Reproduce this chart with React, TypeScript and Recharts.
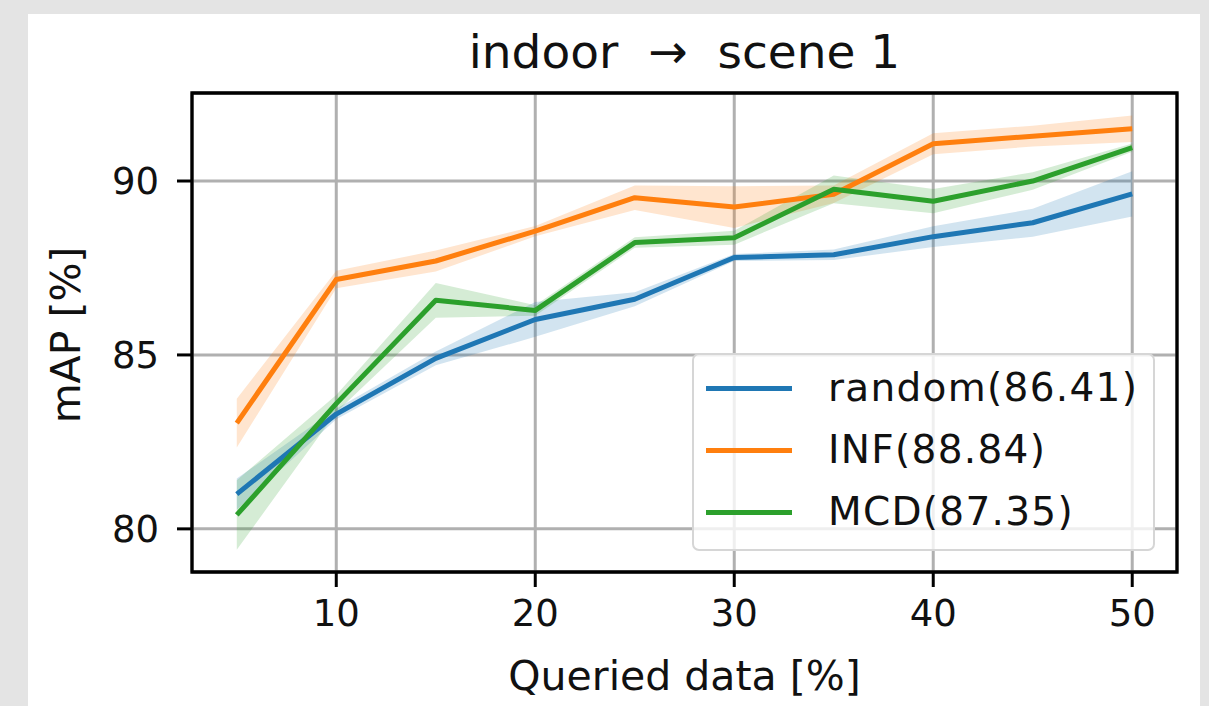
import { ComposedChart, Line, Area, XAxis, YAxis, CartesianGrid, ReferenceArea, Legend } from 'recharts';

const queried = [5, 10, 15, 20, 25, 30, 35, 40, 45, 50];

const randomMean = [81.0, 83.3, 84.9, 86.02, 86.6, 87.8, 87.88, 88.4, 88.8, 89.63];
const randomStd = [0.45, 0.15, 0.2, 0.5, 0.2, 0.1, 0.15, 0.3, 0.4, 0.65];
const infMean = [83.04, 87.17, 87.7, 88.56, 89.52, 89.25, 89.62, 91.07, 91.29, 91.5];
const infStd = [0.7, 0.25, 0.3, 0.15, 0.35, 0.6, 0.25, 0.3, 0.3, 0.38];
const mcdMean = [80.4, 83.6, 86.57, 86.28, 88.23, 88.37, 89.76, 89.42, 90.0, 90.96];
const mcdStd = [1.0, 0.25, 0.5, 0.15, 0.15, 0.2, 0.4, 0.35, 0.25, 0.12];

const xTicks = [10, 20, 30, 40, 50];
const yTicks = [80, 85, 90];

const series = [
  { key: 'random', name: 'random(86.41)', color: '#1f77b4', mean: randomMean, std: randomStd },
  { key: 'inf', name: 'INF(88.84)', color: '#ff7f0e', mean: infMean, std: infStd },
  { key: 'mcd', name: 'MCD(87.35)', color: '#2ca02c', mean: mcdMean, std: mcdStd },
];

const data = queried.map((q, i) => {
  const row: Record<string, number | number[]> = { q };
  series.forEach((s) => {
    row[s.key] = s.mean[i];
    row[s.key + 'Band'] = [s.mean[i] - s.std[i], s.mean[i] + s.std[i]];
  });
  return row;
});

const X_DOMAIN: [number, number] = [2.75, 52.25];
const Y_DOMAIN: [number, number] = [78.76, 92.53];
const FONT = '"DejaVu Sans", sans-serif';

function LegendBox() {
  return (
    <div
      style={{
        boxSizing: 'border-box',
        width: 463,
        height: 198,
        border: '2px solid #d6d6d6',
        borderRadius: 7,
        background: 'rgba(255,255,255,0.8)',
        paddingTop: 2,
        fontFamily: FONT,
        fontSize: 39,
        color: '#111',
      }}
    >
      {series.map((s) => (
        <div key={s.key} style={{ display: 'flex', alignItems: 'center', height: 62, lineHeight: '62px' }}>
          <div style={{ marginLeft: 12, width: 86, height: 5, background: s.color }} />
          <span style={{ marginLeft: 36, whiteSpace: 'pre', letterSpacing: 1.3 }}>{s.name}</span>
        </div>
      ))}
    </div>
  );
}

export default function App() {
  return (
    <div style={{ position: 'absolute', left: 0, top: 0, width: 1209, height: 706, background: '#e4e4e4', overflow: 'hidden' }}>
      <div style={{ position: 'absolute', left: 28, top: 14, width: 1172, height: 692, background: '#fff' }} />
      <div style={{ position: 'absolute', left: 0, top: 0 }}>
        <ComposedChart width={1209} height={706} data={data} margin={{ top: 93, right: 32, bottom: 0, left: 0 }}>
          <CartesianGrid stroke="#b0b0b0" strokeWidth={3} />
          <XAxis
            dataKey="q"
            type="number"
            domain={X_DOMAIN}
            ticks={xTicks}
            height={134}
            axisLine={false}
            tickLine={{ stroke: '#000', strokeWidth: 3 }}
            tickSize={15}
            tickMargin={13}
            tick={{ fontSize: 37, fill: '#111', fontFamily: FONT }}
            allowDataOverflow
          />
          <YAxis
            type="number"
            domain={Y_DOMAIN}
            ticks={yTicks}
            width={192}
            axisLine={false}
            tickLine={{ stroke: '#000', strokeWidth: 3 }}
            tickSize={15}
            tickMargin={18}
            tick={{ fontSize: 37, fill: '#111', fontFamily: FONT }}
            allowDataOverflow
          />
          {series.map((s) => [
            <Line
              key={s.key}
              dataKey={s.key}
              type="linear"
              stroke={s.color}
              strokeWidth={5}
              strokeLinejoin="round"
              dot={false}
              activeDot={false}
              isAnimationActive={false}
              legendType="none"
            />,
            <Area
              key={s.key + 'Band'}
              dataKey={s.key + 'Band'}
              type="linear"
              stroke="none"
              fill={s.color}
              fillOpacity={0.2}
              dot={false}
              activeDot={false}
              isAnimationActive={false}
              legendType="none"
            />,
          ])}
          <ReferenceArea
            x1={X_DOMAIN[0]}
            x2={X_DOMAIN[1]}
            y1={Y_DOMAIN[0]}
            y2={Y_DOMAIN[1]}
            fill="none"
            stroke="#000"
            strokeWidth={3.3}
            ifOverflow="visible"
          />
          <Legend
            layout="horizontal"
            verticalAlign="middle"
            align="center"
            content={() => <LegendBox />}
            wrapperStyle={{ left: 692, top: 353, width: 463, height: 198 }}
          />
        </ComposedChart>
      </div>
      <svg width={1209} height={706} style={{ position: 'absolute', left: 0, top: 0, pointerEvents: 'none' }}>
        <text x={684.5} y={68} textAnchor="middle" fontFamily={FONT} fontSize={47} fill="#111" style={{ whiteSpace: 'pre' }}>
          {'indoor  →  scene 1'}
        </text>
        <text x={684.5} y={690} textAnchor="middle" fontFamily={FONT} fontSize={41} fill="#111">
          Queried data [%]
        </text>
        <text
          x={80}
          y={335}
          textAnchor="middle"
          fontFamily={FONT}
          fontSize={41}
          fill="#111"
          transform="rotate(-90 80 335)"
        >
          mAP [%]
        </text>
      </svg>
    </div>
  );
}
